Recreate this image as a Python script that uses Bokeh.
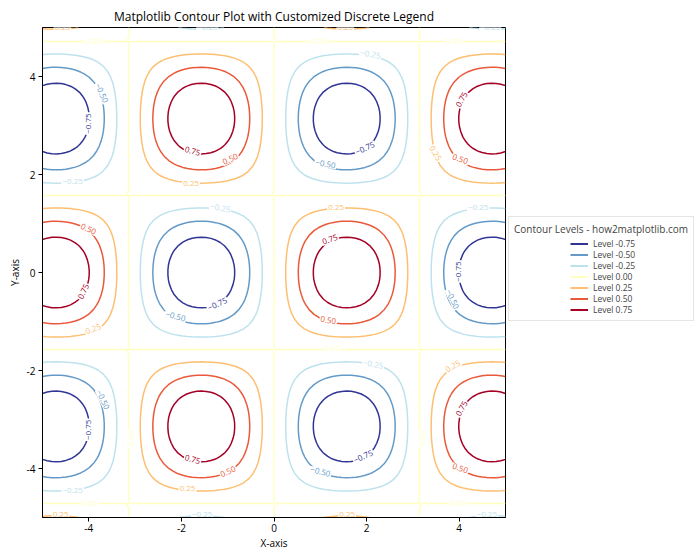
import numpy as np
from bokeh.plotting import figure
from bokeh.models import Legend, LegendItem, ColumnDataSource, PrintfTickFormatter
from bokeh.core.properties import value
from bokeh.embed import file_html
from bokeh.resources import INLINE

FONT = "Open Sans"

# contour levels and colours (RdYlBu_r)
levels = [-0.75, -0.5, -0.25, 0.0, 0.25, 0.5, 0.75]
level_labels = ["Level -0.75", "Level -0.50", "Level -0.25", "Level 0.00",
                "Level 0.25", "Level 0.50", "Level 0.75"]
level_colors = ["#313695", "#649ac7", "#bde2ee", "#ffffbf", "#fdbf71", "#ea593a", "#a50026"]
tick_values = [-4, -2, 0, 2, 4]

# field: Z = sin(x) * cos(y) on a 100 x 100 grid
x_grid = np.linspace(-5, 5, 100)
y_grid = np.linspace(-5, 5, 100)
X, Y = np.meshgrid(x_grid, y_grid)
Z = np.sin(X) * np.cos(Y)

# inline contour labels
clabel_x = [-4.57, -3.90, -3.73, -4.01, -4.35, -1.44, -1.76, -0.94, -1.79, 1.54, 0.95, 2.08, 1.97, 1.11,
            3.87, 4.06, 3.48, 4.02, 4.67,
            -4.01, -4.11, -3.90, -1.16, -1.22, -2.13, 1.34, 1.21, 1.17, 1.26, 4.41, 3.98, 3.85,
            -3.70, -4.01, -3.08, -1.76, -0.99, -1.87, -4.35, -3.99, -4.61, -1.55, 2.14, 1.93, 1.00,
            3.87, 4.06, 3.20, 4.02, 3.97, 1.58, 4.60]
clabel_y = [4.99, 4.72, 3.66, 3.04, 1.86, 4.99, 2.47, 2.31, 1.82, 4.99, 4.72, 4.45, 2.53, 2.21,
            4.72, 3.53, 2.43, 2.31, 4.99,
            0.88, -0.39, -1.16, 1.31, -0.65, -0.90, 1.33, 0.67, -0.98, -1.55, 1.33, 0.02, -0.55,
            -2.60, -3.21, -3.39, -3.82, -4.07, -4.41, -4.45, -4.72, -4.94, -4.94, -1.88, -3.76, -4.07,
            -1.92, -2.78, -3.39, -4.00, -4.72, -4.94, -4.94]
clabel_text = ["0.25", "0.00", "-0.50", "-0.75", "-0.25", "-0.25", "0.75", "0.50", "0.25", "0.25", "0.00",
               "-0.25", "-0.75", "-0.50", "0.00", "0.75", "0.25", "0.50", "-0.25",
               "0.50", "0.75", "0.25", "-0.25", "-0.75", "-0.50", "0.25", "0.75", "0.50", "0.00",
               "-0.25", "-0.75", "-0.50",
               "-0.50", "-0.75", "0.00", "0.75", "0.50", "0.25", "-0.25", "0.00", "0.25", "-0.25",
               "-0.25", "-0.75", "-0.50", "0.25", "0.75", "0.00", "0.50", "0.00", "0.25", "-0.25"]
clabel_angle = [0, 0, -65, 90, 0, 0, -15, 25, 0, 0, 0, -10, 25, -10, 0, 60, -60, -20, 0,
                -25, 65, 20, -10, 25, -15, 0, 20, -10, 0, 0, 90, -65,
                -65, 90, 90, -15, 25, 0, 0, 0, 0, 0, -10, 25, -15, 30, 60, 90, -20, 0, 0, 0]

color_of = {f"{lv:.2f}": c for lv, c in zip(levels, level_colors)}
label_src = ColumnDataSource(dict(
    x=clabel_x, y=clabel_y,
    text=[t.replace("-", "\u2212") for t in clabel_text],
    angle=clabel_angle,
    color=[color_of[t] for t in clabel_text],
))

p = figure(frame_width=463, frame_height=490, x_range=(-5, 5), y_range=(-5, 5),
           output_backend="svg", toolbar_location=None,
           title="Matplotlib Contour Plot with Customized Discrete Legend",
           min_border_left=42, min_border_right=187, min_border_top=27, min_border_bottom=30)

p.title.align = "center"
p.title.text_font = FONT
p.title.text_font_size = "12px"
p.title.text_font_style = "normal"
p.title.text_color = "black"
p.title.standoff = 6

p.contour(x_grid, y_grid, Z, levels, line_color=level_colors, line_width=1.5)

p.text(x="x", y="y", text="text", angle="angle", angle_units="deg", text_color="color",
       text_font=value(FONT), text_font_size="8px", text_align="center", text_baseline="middle",
       background_fill_color="white", padding=1, source=label_src)

for ax in (p.xaxis, p.yaxis):
    ax.ticker = tick_values
    ax.formatter = PrintfTickFormatter(format="%d")
    ax.minor_tick_line_color = None
    ax.major_tick_in = 0
    ax.major_tick_out = 4
    ax.major_tick_line_color = "black"
    ax.axis_line_color = "black"
    ax.major_label_text_font = FONT
    ax.major_label_text_font_size = "10px"
    ax.major_label_text_color = "black"
    ax.axis_label_text_font = FONT
    ax.axis_label_text_font_size = "10px"
    ax.axis_label_text_font_style = "normal"
    ax.axis_label_text_color = "black"
p.xaxis.major_label_standoff = 2
p.xaxis.axis_label_standoff = 1
p.yaxis.major_label_standoff = 3
p.yaxis.axis_label_standoff = 2
p.xaxis.axis_label = "X-axis"
p.yaxis.axis_label = "Y-axis"
p.xgrid.visible = False
p.ygrid.visible = False
p.outline_line_color = "black"
p.outline_line_alpha = 1

# legend: first column holds blank spacer items so the entries sit centred under the title
spacer = p.line([np.nan], [np.nan], line_alpha=0)
item_renderers = [p.line([np.nan], [np.nan], line_color=c, line_width=2) for c in level_colors]
items = [LegendItem(label=" ", renderers=[spacer]) for _ in level_labels]
items += [LegendItem(label=n, renderers=[r]) for n, r in zip(level_labels, item_renderers)]
legend = Legend(items=items, ncols=2,
                title="Contour Levels - how2matplotlib.com", location=(3, 196),
                padding=5, margin=0, spacing=0, label_height=11, glyph_height=11, glyph_width=18,
                label_standoff=5, label_width=33,
                title_text_font=FONT, title_text_font_size="10px", title_text_font_style="normal",
                title_standoff=2, border_line_color="#cccccc", border_line_width=1,
                background_fill_color="white", background_fill_alpha=1,
                label_text_font=FONT, label_text_font_size="8.5px")
p.add_layout(legend, "right")

open("out.html", "w").write(file_html(p, INLINE))
